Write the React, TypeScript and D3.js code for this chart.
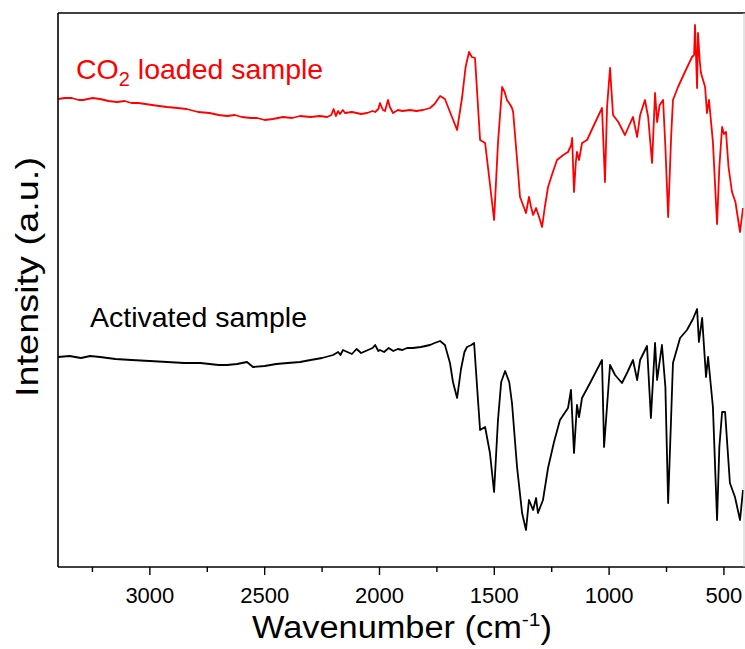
import React from "react";
import * as d3 from "d3";

const redWavenumbers = [3400,3370,3340,3310,3290,3250,3217,3180,3143,3110,3080,3050,3020,2990,2960,2925,2880,2840,2790,2740,2700,2664,2630,2600,2560,2533,2500,2464,2420,2380,2346,2300,2260,2228,2210,2200,2190,2180,2172,2160,2150,2120,2080,2054,2030,2019,2005,1998,1985,1976,1963,1955,1941,1920,1900,1867,1840,1810,1780,1760,1736,1715,1693,1662,1640,1625,1610,1598,1584,1562,1540,1520,1501,1484,1466,1455,1445,1430,1423,1418,1400,1388,1362,1349,1340,1331,1318,1305,1292,1280,1266,1245,1227,1200,1179,1165,1161,1153,1145,1140,1131,1118,1096,1070,1031,1018,1009,996,983,960,931,910,896,878,865,844,830,813,800,791,780,765,755,743,730,722,700,670,639,630,626,617,613,605,600,582,574,565,548,530,520,508,500,491,480,465,450,430,417];
const redIntensity = [46.8,46.9,46.9,46.7,46.7,46.9,46.8,46.6,46.5,46.6,46.4,46.4,46.3,46.2,46.1,46.0,45.9,45.8,45.5,45.4,45.2,45.1,45.2,45.0,44.9,44.9,44.7,44.8,45.0,44.9,45.1,45.0,45.1,45.0,45.2,45.8,45.1,45.6,45.3,45.7,45.4,45.5,45.3,45.4,45.6,45.5,45.8,46.4,45.7,45.6,46.7,46.0,45.4,45.7,45.6,45.7,45.6,45.7,45.9,46.3,47.1,46.8,45.5,43.7,47.0,50.0,51.5,51.0,50.9,42.7,42.4,38.5,34.7,42.4,48.0,47.5,46.7,46.2,45.9,45.5,40.5,37.0,35.4,37.0,36.0,35.2,35.9,35.0,34.0,36.0,38.0,39.5,40.7,41.2,41.5,42.2,42.9,37.5,40.5,41.5,40.7,42.4,42.7,44.0,45.9,38.5,46.0,49.9,45.2,44.5,43.2,44.3,45.0,43.0,45.2,46.7,45.0,40.4,47.4,44.5,46.2,46.7,42.0,35.0,43.0,46.7,48.0,49.5,51.0,51.2,54.2,47.9,53.4,50.5,49.4,48.0,45.4,46.7,42.5,34.3,40.0,44.0,43.3,43.5,40.0,37.5,36.5,33.5,35.9];

const blackWavenumbers = [3400,3350,3300,3260,3217,3150,3080,3000,2925,2850,2780,2700,2664,2620,2577,2551,2500,2450,2400,2346,2300,2250,2202,2180,2170,2159,2140,2120,2100,2080,2060,2030,2019,2005,1998,1980,1960,1940,1920,1900,1880,1854,1820,1780,1760,1736,1715,1693,1680,1662,1645,1630,1619,1600,1588,1575,1562,1540,1519,1501,1484,1470,1453,1435,1423,1401,1379,1362,1349,1331,1318,1310,1288,1266,1240,1214,1179,1166,1153,1140,1131,1118,1083,1031,1022,996,974,944,920,896,878,865,835,818,800,791,770,755,743,730,722,691,661,635,617,609,595,578,569,548,530,520,508,495,474,452,430,417];
const blackIntensity = [21.0,21.1,20.9,21.1,21.0,20.8,20.7,20.6,20.5,20.4,20.4,20.2,20.2,20.3,20.5,20.0,20.1,20.3,20.4,20.5,20.7,20.9,21.2,21.5,21.2,21.7,21.5,21.3,21.8,21.4,21.6,21.9,22.2,21.6,21.7,21.5,21.9,21.6,21.8,21.7,21.9,21.9,22.0,22.2,22.4,22.6,22.2,20.4,18.5,16.9,19.8,21.5,22.0,22.2,22.4,18.0,13.7,14.0,11.4,7.5,14.7,18.5,19.6,18.5,16.4,10.0,5.4,3.7,6.7,5.7,6.9,5.4,6.7,9.9,12.5,14.7,15.9,17.7,11.4,16.2,15.0,16.9,18.4,20.7,12.0,20.2,19.2,18.4,19.5,20.7,18.7,20.7,22.1,14.9,22.4,18.7,22.2,18.0,6.4,15.0,20.4,22.9,23.7,24.8,25.8,22.5,24.9,19.0,21.0,16.0,4.7,12.0,15.5,15.5,8.4,7.0,4.7,7.7];

const majorTicks = [3000, 2500, 2000, 1500, 1000, 500];
const minorTicks = [3250, 2750, 2250, 1750, 1250, 750];

const W = 745, H = 649;
const left = 58, right = 743, top = 13, bottom = 567;
const FONT = "'Liberation Sans', Arial, Helvetica, sans-serif";

export default function App() {
  const x = d3.scaleLinear().domain([3400, 417]).range([left, right]);
  const y = d3.scaleLinear().domain([0, 55.4]).range([bottom, top]);
  const line = d3.line<[number, number]>().x(d => x(d[0])).y(d => y(d[1]));
  const red = redWavenumbers.map((w, i) => [w, redIntensity[i]] as [number, number]);
  const black = blackWavenumbers.map((w, i) => [w, blackIntensity[i]] as [number, number]);

  return (
    <svg width={W} height={H} style={{ position: "absolute", left: 0, top: 0, background: "#fff" }} fontFamily={FONT}>
      <rect x={0} y={0} width={W} height={H} fill="#fff" />
      <defs>
        <clipPath id="plotclip">
          <rect x={left} y={top} width={right - left + 2} height={bottom - top} />
        </clipPath>
      </defs>
      <g clipPath="url(#plotclip)">
        <path d={line(red) || ""} fill="none" stroke="#ff0000" strokeWidth={1.8} strokeLinejoin="round" />
        <path d={line(black) || ""} fill="none" stroke="#000" strokeWidth={1.8} strokeLinejoin="round" />
      </g>
      <line x1={left} x2={W} y1={top} y2={top} stroke="#000" strokeWidth={1.6} />
      <line x1={left} x2={W} y1={bottom} y2={bottom} stroke="#000" strokeWidth={1.6} />
      <line x1={left} x2={left} y1={top} y2={bottom} stroke="#000" strokeWidth={1.6} />
      <line x1={744} x2={744} y1={top} y2={bottom} stroke="#c8c8c8" strokeWidth={1} />
      {majorTicks.map(t => (
        <g key={t}>
          <line x1={x(t)} x2={x(t)} y1={bottom} y2={bottom + 8} stroke="#000" strokeWidth={1.4} />
          <text x={x(t)} y={603} fontSize={22} textAnchor="middle" fill="#000">{t}</text>
        </g>
      ))}
      {minorTicks.map(t => (
        <line key={t} x1={x(t)} x2={x(t)} y1={bottom} y2={bottom + 5} stroke="#000" strokeWidth={1.4} />
      ))}
      <text x={252} y={638} fontSize={31} textLength={300} lengthAdjust="spacingAndGlyphs" fill="#000">
        Wavenumber (cm<tspan dy={-12} fontSize={19}>-1</tspan><tspan dy={12}>)</tspan>
      </text>
      <text transform="translate(38,277) rotate(-90)" fontSize={31} textAnchor="middle" textLength={240} lengthAdjust="spacingAndGlyphs" fill="#000">Intensity (a.u.)</text>
      <text x={76} y={79} fontSize={28.5} fill="#ff0000">
        CO<tspan dy={7} fontSize={20}>2</tspan><tspan dy={-7}> loaded sample</tspan>
      </text>
      <text x={90} y={327} fontSize={28.5} fill="#000">Activated sample</text>
    </svg>
  );
}
